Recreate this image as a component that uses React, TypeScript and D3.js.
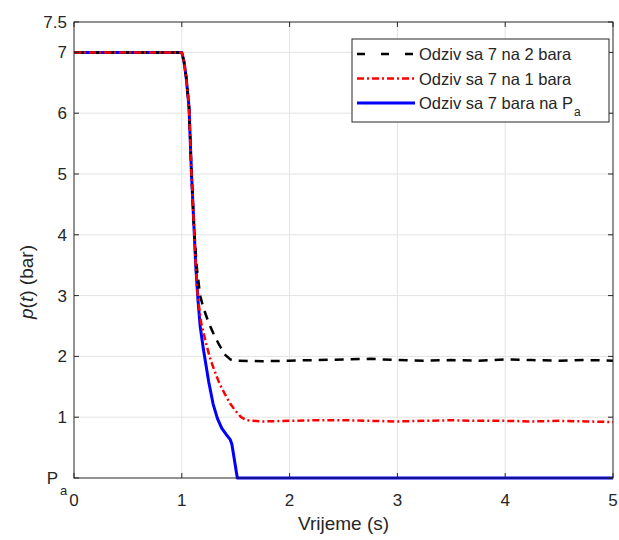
import React from "react";
import * as d3 from "d3";

// ---- data ----
const blackT = [0, 1.0, 1.02, 1.04, 1.067, 1.09, 1.113, 1.14, 1.17, 1.2, 1.25, 1.3, 1.35, 1.4, 1.45, 1.5, 1.75, 2.0, 2.25, 2.5, 2.75, 3.0, 3.25, 3.5, 3.75, 4.0, 4.25, 4.5, 4.75, 5.0];
const blackP = [7, 7, 6.85, 6.6, 6.1, 5.0, 4.13, 3.45, 3.0, 2.8, 2.55, 2.35, 2.18, 2.03, 1.95, 1.93, 1.92, 1.93, 1.94, 1.95, 1.96, 1.94, 1.93, 1.94, 1.93, 1.95, 1.94, 1.93, 1.94, 1.93];

const redT = [0, 1.0, 1.02, 1.04, 1.067, 1.09, 1.113, 1.13, 1.15, 1.18, 1.22, 1.26, 1.3, 1.35, 1.4, 1.45, 1.5, 1.55, 1.6, 1.75, 2.0, 2.25, 2.5, 2.75, 3.0, 3.25, 3.5, 3.75, 4.0, 4.25, 4.5, 4.75, 5.0];
const redP = [7, 7, 6.85, 6.6, 6.1, 5.0, 4.13, 3.47, 2.95, 2.55, 2.25, 1.98, 1.78, 1.55, 1.38, 1.22, 1.1, 1.0, 0.95, 0.93, 0.94, 0.95, 0.95, 0.94, 0.93, 0.94, 0.95, 0.94, 0.94, 0.93, 0.94, 0.93, 0.92];

const blueT = [0, 1.0, 1.02, 1.04, 1.067, 1.09, 1.113, 1.13, 1.15, 1.17, 1.2, 1.25, 1.29, 1.33, 1.37, 1.41, 1.45, 1.465, 1.515, 5.0];
const blueP = [7, 7, 6.85, 6.6, 6.1, 5.0, 4.13, 3.47, 2.93, 2.5, 2.12, 1.58, 1.22, 0.98, 0.82, 0.72, 0.63, 0.55, 0, 0];

const xTicks = [0, 1, 2, 3, 4, 5];
const yTicks = [0, 1, 2, 3, 4, 5, 6, 7, 7.5];
const legendLabels = ["Odziv sa 7 na 2 bara", "Odziv sa 7 na 1 bara", "Odziv sa 7 bara na P"];

const W = 619, H = 540;
const L = 74, R = 613, T = 22, B = 478;
const FONT = "'Liberation Sans', Arial, Helvetica, sans-serif";
const AX = "#262626";

export default function App() {
  const x = d3.scaleLinear().domain([0, 5]).range([L, R]);
  const y = d3.scaleLinear().domain([0, 7.5]).range([B, T]);
  const line = d3.line<[number, number]>().x(d => x(d[0])).y(d => y(d[1]));
  const mk = (ts: number[], ps: number[]) => line(ts.map((t, i) => [t, ps[i]] as [number, number])) || "";

  const series = [
    { key: "blue", d: mk(blueT, blueP), color: "#0000ff", w: 3, dash: "none" },
    { key: "black", d: mk(blackT, blackP), color: "#000000", w: 2.5, dash: "9,7" },
    { key: "red", d: mk(redT, redP), color: "#ff0000", w: 2.5, dash: "7,3,2,3" },
  ];
  const legend = [
    { color: "#000000", w: 2.5, dash: "8,16" },
    { color: "#ff0000", w: 2.5, dash: "7,3,2,3" },
    { color: "#0000ff", w: 3, dash: "none" },
  ];
  const tickLen = 5;

  return (
    <svg width={W} height={H} style={{ position: "absolute", left: 0, top: 0, background: "#fff" }} fontFamily={FONT}>
      <rect x={0} y={0} width={W} height={H} fill="#fff" />
      {/* grid */}
      {xTicks.slice(1, -1).map(t => (
        <line key={"gx" + t} x1={x(t)} x2={x(t)} y1={T} y2={B} stroke="#e3e3e3" strokeWidth={1} />
      ))}
      {yTicks.filter(t => t > 0 && t < 7.5).map(t => (
        <line key={"gy" + t} x1={L} x2={R} y1={y(t)} y2={y(t)} stroke="#e3e3e3" strokeWidth={1} />
      ))}
      {/* curves */}
      <defs>
        <clipPath id="clip"><rect x={L} y={T - 2} width={R - L} height={B - T + 4} /></clipPath>
      </defs>
      <g clipPath="url(#clip)">
        {series.map(s => (
          <path key={s.key} d={s.d} fill="none" stroke={s.color} strokeWidth={s.w}
            strokeDasharray={s.dash} strokeLinejoin="round" />
        ))}
      </g>
      {/* box */}
      <rect x={L} y={T} width={R - L} height={B - T} fill="none" stroke={AX} strokeWidth={1} />
      {/* ticks */}
      {xTicks.map(t => (
        <g key={"tx" + t}>
          <line x1={x(t)} x2={x(t)} y1={B} y2={B - tickLen} stroke={AX} />
          <line x1={x(t)} x2={x(t)} y1={T} y2={T + tickLen} stroke={AX} />
          <text x={x(t)} y={B + 28} textAnchor="middle" fontSize={17} fill={AX}>{t}</text>
        </g>
      ))}
      {yTicks.map(t => (
        <g key={"ty" + t}>
          <line x1={L} x2={L + tickLen} y1={y(t)} y2={y(t)} stroke={AX} />
          <line x1={R} x2={R - tickLen} y1={y(t)} y2={y(t)} stroke={AX} />
          {t === 0 ? (
            <text x={58} y={y(t) + 6} textAnchor="end" fontSize={17} fill={AX}>P</text>
          ) : (
            <text x={67} y={y(t) + 6} textAnchor="middle" fontSize={17} fill={AX} style={{ textAnchor: "end" }}>{t}</text>
          )}
        </g>
      ))}
      <text x={60} y={y(0) + 17} fontSize={13} fill={AX}>a</text>
      {/* axis labels */}
      <text x={(L + R) / 2} y={530} textAnchor="middle" fontSize={19} fill={AX}>Vrijeme (s)</text>
      <text transform={`translate(33,${(T + B) / 2 + 32}) rotate(-90)`} textAnchor="middle" fontSize={19} fill={AX}>
        <tspan fontStyle="italic">p</tspan>(<tspan fontStyle="italic">t</tspan>) (bar)
      </text>
      {/* legend */}
      <rect x={352} y={39} width={257} height={83} fill="#fff" stroke={AX} strokeWidth={1} />
      {legend.map((l, i) => (
        <g key={"lg" + i}>
          <line x1={357} x2={415} y1={54 + i * 24.5} y2={54 + i * 24.5} stroke={l.color} strokeWidth={l.w} strokeDasharray={l.dash} />
          <text x={419} y={54 + i * 24.5 + 6} fontSize={16.5} fill={AX}>
            {legendLabels[i]}
            {i === 2 ? <tspan fontSize={12} dx={1} dy={7}>a</tspan> : null}
          </text>
        </g>
      ))}
    </svg>
  );
}
